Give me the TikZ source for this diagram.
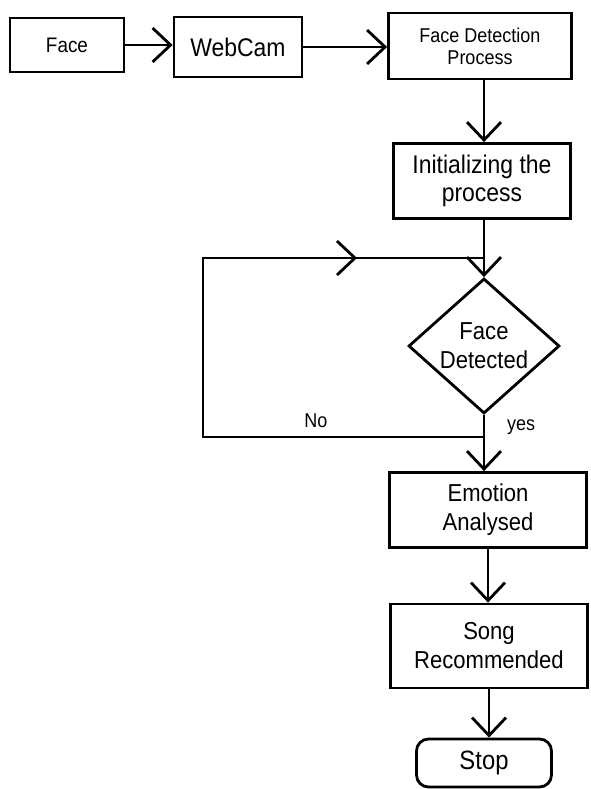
\documentclass[tikz,border=0pt]{standalone}
\usepackage{fontspec}
\setmainfont[FakeStretch=0.9]{Liberation Sans}
\usetikzlibrary{arrows.meta,shapes.geometric}

\begin{document}
\begin{tikzpicture}[x=1pt, y=-1pt, line width=2.8pt,
  every node/.style={font=\fontsize{24.5}{29}\selectfont},
  bx/.style={draw, line width=2.8pt, align=center, inner sep=0pt},
  arr/.style={-{Straight Barb[length=18pt, width=34pt, line width=2.8pt]}}]
\useasboundingbox (0,0) rectangle (590,789);
% top row
\node[bx, minimum width=114, minimum height=54, font=\fontsize{21}{24}\selectfont] (face) at (67,45) {Face};
\node[bx, minimum width=128, minimum height=60, font=\fontsize{25.5}{28}\selectfont] (webcam) at (238,47) {WebCam};
\node[bx, minimum width=183, minimum height=66, font=\fontsize{20}{22}\selectfont] (fdp) at (480,46) {Face Detection\\Process};
\coordinate (mainx) at (484,0);
% column
\node[bx, minimum width=177, minimum height=75, font=\fontsize{25.5}{28}\selectfont] (init) at (482,181) {Initializing the\\process};
\node[bx, shape=diamond, aspect=1.12, minimum width=151, minimum height=135] (det) at (484,346) {Face\\Detected};
\node[bx, minimum width=197, minimum height=75] (emo) at (488,510) {Emotion\\Analysed};
\node[bx, minimum width=197, minimum height=84] (song) at (489,646) {Song\\Recommended};
\node[bx, rounded corners=12pt, minimum width=135, minimum height=48, font=\fontsize{26.5}{29}\selectfont] (stop) at (484,763) {Stop};
% arrows
\draw[arr] (face) -- (face -| webcam.west);
\draw[arr] (webcam) -- (webcam -| fdp.west);
\draw[arr] (fdp.south -| mainx) -- (init.north -| mainx);
\draw[arr] (init.south -| mainx) -- (det.north);
\draw[arr] (det.south) -- (det.south |- emo.north);
\draw[arr] (emo.south) -- (emo.south |- song.north);
\draw[arr] (song.south) -- (song.south |- stop.north);
% loop back
\coordinate (lpBR) at (484,437);
\coordinate (lpBL) at (203,437);
\coordinate (lpTL) at (203,258);
\coordinate (lpMid) at (357,258);
\coordinate (lpTR) at (484,258);
\draw (lpBR) -- (lpBL) -- (lpTL) -- (lpTR);
\draw[arr] (lpTL) -- (lpMid);
\node[font=\fontsize{20}{22}\selectfont] (no) at (316,421) {No};
\node[font=\fontsize{20}{22}\selectfont] (yes) at (521,427) {yes};
\end{tikzpicture}
\end{document}
